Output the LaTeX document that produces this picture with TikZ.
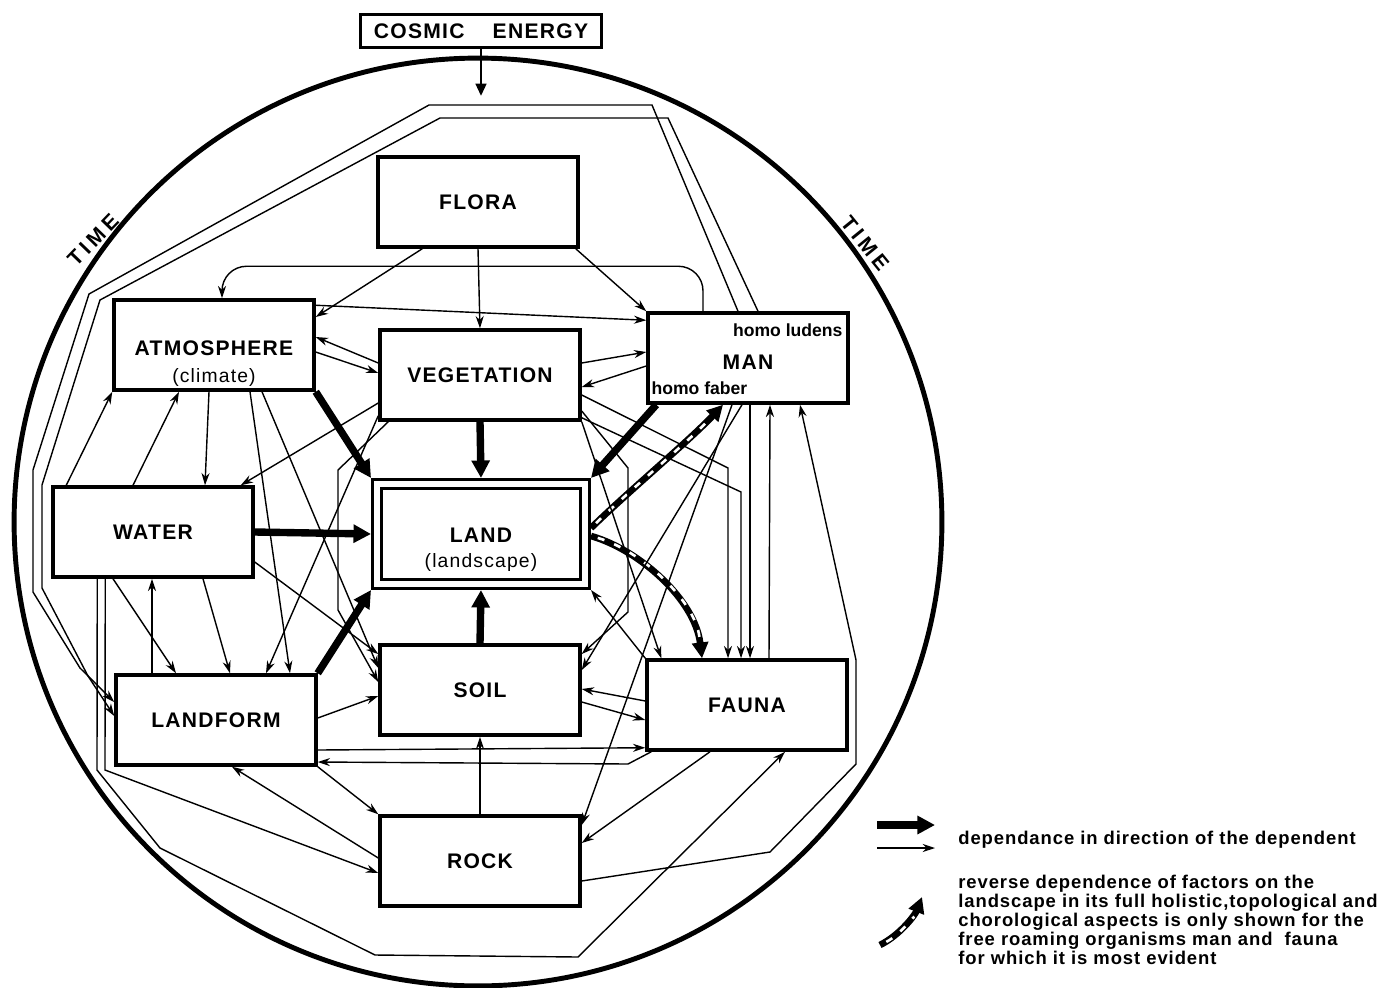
\documentclass[tikz,border=0pt]{standalone}
\usepackage{fontspec}
\setmainfont{Liberation Sans}
\usetikzlibrary{positioning, arrows.meta, calc}

\begin{document}
\begin{tikzpicture}[x=0.02cm, y=-0.02cm,
  box/.style={rectangle, draw, line width=2pt, minimum width=4cm, minimum height=1.8cm, inner sep=0pt, font=\fontsize{12}{14}\selectfont\bfseries\addfontfeatures{LetterSpace=6}},
  landbox/.style={rectangle, draw, line width=1.6pt, double, double distance=0.12cm, minimum width=4.16cm, minimum height=2cm, outer sep=0.12cm},
  title/.style={font=\fontsize{12}{14}\selectfont\bfseries\addfontfeatures{LetterSpace=6}, inner sep=0pt},
  sub/.style={font=\fontsize{11}{13}\selectfont\addfontfeatures{LetterSpace=6}, inner sep=0pt},
  homo/.style={font=\fontsize{10}{12}\selectfont\bfseries, inner sep=0pt},
  timelbl/.style={font=\fontsize{12}{14}\selectfont\bfseries\addfontfeatures{LetterSpace=20}, inner sep=0pt},
  dep/.style={-{Stealth[length=7pt,width=4.6pt]}, line width=0.8pt},
  thickdep/.style={-{Triangle[length=10pt,width=10pt]}, line width=4.2pt},
  revdep/.style={-{Triangle[length=9pt,width=9pt]}, line width=3.8pt, postaction={draw=white, -, line width=1.5pt, dash pattern=on 4pt off 6pt, shorten >=12pt, shorten <=4pt}},
  legend/.style={font=\fontsize{10.5}{10.8}\selectfont\bfseries\addfontfeatures{LetterSpace=5}, align=left, inner sep=0pt}
]
\useasboundingbox (0,0) rectangle (1385,987);

% --- time circle ---
\draw[line width=2.8pt] (478,522) circle[radius=9.28cm];
\node[timelbl, rotate=46] at (93,240) {TIME};
\node[timelbl, rotate=-51] at (865,243) {TIME};

% --- factors ---
\node[box, minimum width=4.82cm, minimum height=0.66cm, line width=1.6pt] (cosmic) at (481,31) {COSMIC\hspace{16pt}ENERGY};
\coordinate (inflow) at (481,96);
\node[box] (flora) at (478,202) {FLORA};
\node[box] (atm) at (214,345) {};
\node[box] (veg) at (480,375) {VEGETATION};
\node[box] (man) at (748,358) {};
\node[box] (water) at (153,532) {WATER};
\node[landbox] (land) at (481,534) {};
\node[box] (soil) at (480,690) {SOIL};
\node[box] (lf) at (216,720) {LANDFORM};
\node[box] (fauna) at (747,705) {FAUNA};
\node[box] (rock) at (480,861) {ROCK};

% --- texts in boxes ---
\node[title] at ($(atm.center)+(0,3)$) {ATMOSPHERE};
\node[sub] at ($(atm.center)+(0,32)$) {(climate)};
\node[title] at ($(land.center)+(0,1)$) {LAND};
\node[sub] at ($(land.center)+(0,28)$) {(landscape)};
\node[title] at ($(man.center)+(0,4)$) {MAN};
\node[homo, anchor=north east] at ($(man.north east)+(-7,12)$) {homo ludens};
\node[homo, anchor=south west] at ($(man.south west)+(5,-10)$) {homo faber};

% --- energy input ---
\draw[-{Triangle[length=7pt,width=6pt]}, line width=1.5pt] (cosmic) -- (inflow);

% --- dependence on the land ---
\draw[thickdep] (atm.south east) -- (land.north west);
\draw[thickdep] (veg.south) -- (land.north);
\draw[thickdep] ($(man.south west)+(10,0)$) -- (land.north east);
\draw[thickdep] (water.east) -- (land.west);
\draw[thickdep] (lf.north east) -- (land.south west);
\draw[thickdep] (soil.north) -- (land.south);

% --- reverse dependence ---
\draw[revdep] ($(land.east)+(0,-6)$) .. controls (630,490) and (690,440) .. ($(man.south)+(-25,0)$);
\draw[revdep] ($(land.east)+(0,2)$) .. controls (640,550) and (695,600) .. ($(fauna.north)+(-45,0)$);

% --- flora ---
\draw[dep] (flora.south) -- (veg.north);
\draw[dep] ($(flora.south east)+(-4,0)$) -- (man.north west);
\draw[dep] ($(flora.south west)+(46,0)$) -- ($(atm.east)+(0,-28)$);

% --- atmosphere ---
\draw[dep] ($(atm.north east)+(0,7)$) -- ($(man.north west)+(0,9)$);
\draw[dep] ($(atm.east)+(0,7)$) -- ($(veg.west)+(0,-2)$);
\draw[dep] ($(atm.south)+(-5,0)$) -- ($(water.north)+(52,0)$);
\draw[dep] ($(atm.south)+(36,0)$) -- ($(lf.north)+(74,0)$);
\draw[dep] ($(atm.south)+(48,0)$) -- ($(soil.west)+(0,-22)$);

% --- vegetation ---
\draw[dep] ($(veg.west)+(0,-12)$) -- ($(atm.east)+(0,-8)$);
\draw[dep] ($(veg.east)+(0,-12)$) -- ($(man.west)+(0,-6)$);
\draw[dep] ($(veg.west)+(0,28)$) -- ($(water.north east)+(-14,0)$);
\draw[dep] ($(veg.south west)+(0,-6)$) -- ($(lf.north)+(50,0)$);
\draw[dep] ($(veg.south west)+(10,0)$) -- (338,470) -- (338,610) -- ($(soil.west)+(0,-8)$);
\draw[dep] ($(veg.east)+(0,20)$) -- (728,468) -- ($(fauna.north)+(-19,0)$);
\draw[dep] ($(veg.south east)+(0,-4)$) -- (741,492) -- ($(fauna.north)+(-6,0)$);
\draw[dep] (veg.south east) -- ($(fauna.north west)+(16,0)$);
\draw[dep] ($(veg.east)+(0,36)$) -- (628,468) -- (628,612) -- ($(soil.east)+(0,-36)$);

% --- man ---
\draw[dep] ($(man.west)+(0,8)$) -- ($(veg.east)+(0,12)$);
\draw[dep, rounded corners=14pt] ($(man.north)+(-45,0)$) |- ($(atm.north)+(8,-32)$) -- ($(atm.north)+(8,0)$);
\draw[dep] ($(man.north)+(-10,0)$) -- (652,105) -- (429,105) -- (89,294) -- (33,470) -- (33,592) -- (80,668) -- ($(lf.west)+(0,-18)$);
\draw[dep] ($(man.north)+(10,0)$) -- (668,118) -- (440,118) -- (100,300) -- (42,485) -- (42,588) -- (88,676) -- ($(lf.west)+(0,-4)$);
\draw[dep] ($(man.south)+(2,0)$) -- ($(fauna.north)+(3,0)$);
\draw[dep] ($(man.south)+(-6,0)$) -- ($(soil.east)+(0,-20)$);
\draw[dep] ($(man.south)+(-16,0)$) -- ($(rock.east)+(0,-36)$);

% --- water ---
\draw[dep] ($(water.north)+(-20,0)$) -- ($(atm.south)+(-35,0)$);
\draw[dep] ($(water.north west)+(15,0)$) -- (atm.south west);
\draw[dep] ($(water.south)+(-40,0)$) -- ($(lf.north)+(-40,0)$);
\draw[dep] ($(water.south)+(50,0)$) -- ($(lf.north)+(14,0)$);
\draw[dep] ($(water.east)+(0,30)$) -- ($(soil.west)+(0,-36)$);
\draw[dep] ($(water.south west)+(46,0)$) -- (97,770) -- (160,848) -- (375,955) -- (578,957) -- ($(fauna.south)+(38,0)$);
\draw[dep] ($(water.south west)+(54,0)$) -- (105,770) -- ($(rock.west)+(0,12)$);

% --- landform ---
\draw[dep] ($(lf.north)+(-64,0)$) -- ($(water.south)+(-1,0)$);
\draw[dep] ($(lf.east)+(0,-2)$) -- ($(soil.west)+(0,6)$);
\draw[dep] (lf.south east) -- (rock.north west);
\draw[dep] ($(lf.east)+(0,30)$) -- ($(fauna.south west)+(0,-4)$);

% --- soil, rock, fauna ---
\draw[dep] (rock.north) -- (soil.south);
\draw[dep] ($(rock.west)+(0,-3)$) -- ($(lf.south)+(16,0)$);
\draw[dep] ($(rock.east)+(0,20)$) -- (770,852) -- (856,764) -- (856,660) -- ($(man.south)+(52,0)$);
\draw[dep] ($(soil.east)+(0,12)$) -- ($(fauna.west)+(0,15)$);
\draw[dep] ($(fauna.west)+(0,-4)$) -- ($(soil.east)+(0,-1)$);
\draw[dep] (fauna.north west) -- (land.south east);
\draw[dep] ($(fauna.north)+(22,0)$) -- ($(man.south)+(22,0)$);
\draw[dep] ($(fauna.south)+(-37,0)$) -- ($(rock.east)+(0,-18)$);
\draw[dep] ($(fauna.south west)+(6,0)$) -- (628,764) -- ($(lf.east)+(0,42)$);

% --- legend ---
\coordinate (keyA1) at (877,825);
\coordinate (keyA2) at (935,825);
\coordinate (keyB1) at (877,848);
\coordinate (keyB2) at (935,848);
\coordinate (keyC1) at (880,945);
\coordinate (keyC2) at (922,897);
\draw[thickdep] (keyA1) -- (keyA2);
\draw[dep] (keyB1) -- (keyB2);
\draw[revdep] (keyC1) .. controls (900,935) and (915,915) .. (keyC2);
\node[legend, anchor=west] (keydep) at (958,840) {dependance in direction of the dependent};
\node[legend, anchor=west] (keyrev) at (958,920) {reverse dependence of factors on the\\landscape in its full holistic,topological and\\chorological aspects is only shown for the\\free roaming organisms man and\ \ fauna\\for which it is most evident};
\end{tikzpicture}
\end{document}
